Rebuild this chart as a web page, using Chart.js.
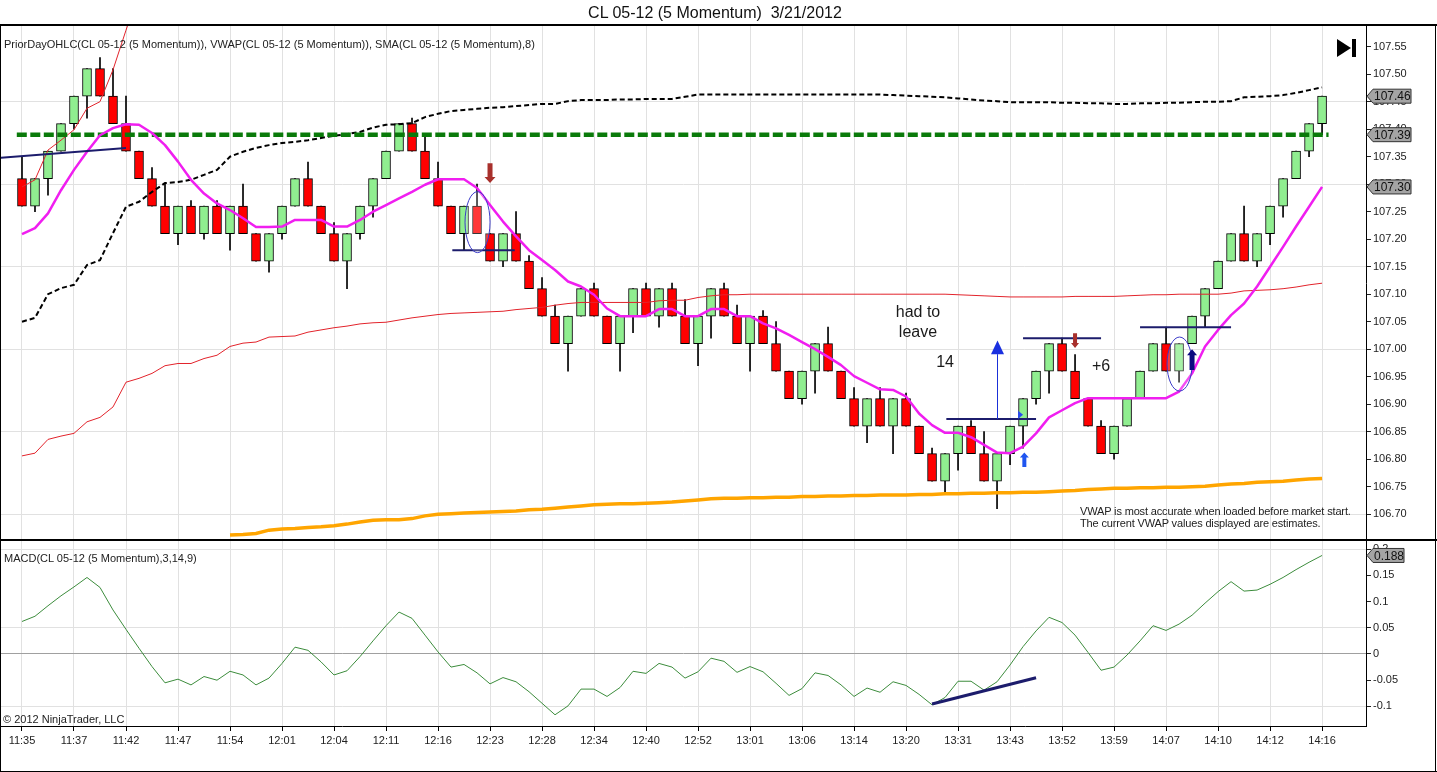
<!DOCTYPE html>
<html>
<head>
<meta charset="utf-8">
<title>CL 05-12 (5 Momentum) 3/21/2012</title>
<script src="https://cdn.jsdelivr.net/npm/chart.js@4.4.1/dist/chart.umd.min.js"></script>
<style>
  body { margin: 0; background: #fff; font-family: "Liberation Sans", Arial, sans-serif; }
  #wrap { position: relative; width: 1437px; height: 772px; overflow: hidden; background: #fff; }
  canvas { position: absolute; left: 0; }
  #priceCanvas { top: 0; }
  #macdCanvas { top: 540px; }
  .lbl { position: absolute; color: #222; white-space: nowrap; font-size: 11px; line-height: 13px; }
</style>
</head>
<body>
<div id="wrap">
  <canvas id="priceCanvas" width="1437" height="541"></canvas>
  <canvas id="macdCanvas" width="1437" height="232"></canvas>
  <div class="lbl" style="left:0;width:1430px;text-align:center;top:4px;font-size:16px;line-height:18px;color:#111;">CL 05-12 (5 Momentum)&nbsp; 3/21/2012</div>
  <div class="lbl" style="left:4px;top:38px;">PriorDayOHLC(CL 05-12 (5 Momentum)), VWAP(CL 05-12 (5 Momentum)), SMA(CL 05-12 (5 Momentum),8)</div>
  <div class="lbl" style="left:1080px;top:505px;font-size:11px;line-height:12px;letter-spacing:-0.15px;">VWAP is most accurate when loaded before market start.<br>The current VWAP values displayed are estimates.</div>
  <div class="lbl" style="left:4px;top:552px;">MACD(CL 05-12 (5 Momentum),3,14,9)</div>
  <div class="lbl" style="left:3px;top:713px;">&copy; 2012 NinjaTrader, LLC</div>
</div>

<script>
// 5 tick momentum bars, one entry per bar (101 bars)

const timeLabels = ['11:35', '11:37', '11:42', '11:47', '11:54', '12:01', '12:04', '12:11', '12:16',
  '12:23', '12:28', '12:34', '12:40', '12:52', '13:01', '13:06', '13:14', '13:20', '13:31',
  '13:43', '13:52', '13:59', '14:07', '14:10', '14:12', '14:16'];

const opens = [
  107.31, 107.26, 107.31, 107.36, 107.41, 107.46, 107.51, 107.46, 107.41, 107.36,
  107.31, 107.26, 107.21, 107.26, 107.21, 107.26, 107.21, 107.26, 107.21, 107.16,
  107.21, 107.26, 107.31, 107.26, 107.21, 107.16, 107.21, 107.26, 107.31, 107.36,
  107.41, 107.36, 107.31, 107.26, 107.21, 107.26, 107.21, 107.16, 107.21, 107.16,
  107.11, 107.06, 107.01, 107.06, 107.11, 107.06, 107.01, 107.06, 107.11, 107.06,
  107.11, 107.06, 107.01, 107.06, 107.11, 107.06, 107.01, 107.06, 107.01, 106.96,
  106.91, 106.96, 107.01, 106.96, 106.91, 106.86, 106.91, 106.86, 106.91, 106.86,
  106.81, 106.76, 106.81, 106.86, 106.81, 106.76, 106.81, 106.86, 106.91, 106.96,
  107.01, 106.96, 106.91, 106.86, 106.81, 106.86, 106.91, 106.96, 107.01, 106.96,
  107.01, 107.06, 107.11, 107.16, 107.21, 107.16, 107.21, 107.26, 107.31, 107.36,
  107.41];

const highs = [
  107.35, 107.31, 107.36, 107.41, 107.46, 107.51, 107.53, 107.51, 107.46, 107.36,
  107.33, 107.30, 107.26, 107.27, 107.26, 107.27, 107.26, 107.30, 107.21, 107.21,
  107.26, 107.31, 107.34, 107.26, 107.23, 107.21, 107.26, 107.31, 107.36, 107.41,
  107.42, 107.39, 107.34, 107.26, 107.26, 107.30, 107.21, 107.21, 107.25, 107.17,
  107.13, 107.08, 107.06, 107.11, 107.12, 107.06, 107.06, 107.11, 107.12, 107.11,
  107.12, 107.09, 107.06, 107.11, 107.12, 107.08, 107.06, 107.07, 107.05, 106.96,
  106.96, 107.01, 107.04, 106.96, 106.93, 106.91, 106.93, 106.91, 106.92, 106.86,
  106.82, 106.81, 106.86, 106.87, 106.85, 106.81, 106.86, 106.91, 106.96, 107.01,
  107.02, 106.99, 106.91, 106.87, 106.86, 106.91, 106.96, 107.01, 107.04, 107.01,
  107.06, 107.11, 107.16, 107.21, 107.26, 107.21, 107.26, 107.31, 107.36, 107.41,
  107.46];

const lows = [
  107.26, 107.25, 107.28, 107.36, 107.40, 107.42, 107.46, 107.41, 107.36, 107.31,
  107.26, 107.21, 107.19, 107.21, 107.20, 107.21, 107.18, 107.21, 107.16, 107.14,
  107.20, 107.26, 107.26, 107.21, 107.16, 107.11, 107.20, 107.24, 107.31, 107.36,
  107.36, 107.31, 107.26, 107.21, 107.18, 107.21, 107.16, 107.15, 107.16, 107.11,
  107.06, 107.01, 106.96, 107.06, 107.06, 107.01, 106.96, 107.03, 107.06, 107.04,
  107.06, 107.01, 106.97, 107.02, 107.06, 107.01, 106.96, 107.01, 106.96, 106.91,
  106.90, 106.92, 106.96, 106.91, 106.86, 106.83, 106.86, 106.81, 106.86, 106.81,
  106.76, 106.74, 106.78, 106.81, 106.76, 106.71, 106.79, 106.82, 106.90, 106.92,
  106.96, 106.91, 106.86, 106.81, 106.80, 106.86, 106.91, 106.96, 106.96, 106.94,
  107.01, 107.04, 107.11, 107.16, 107.16, 107.15, 107.19, 107.24, 107.31, 107.35,
  107.39];

const closes = [
  107.26, 107.31, 107.36, 107.41, 107.46, 107.51, 107.46, 107.41, 107.36, 107.31,
  107.26, 107.21, 107.26, 107.21, 107.26, 107.21, 107.26, 107.21, 107.16, 107.21,
  107.26, 107.31, 107.26, 107.21, 107.16, 107.21, 107.26, 107.31, 107.36, 107.41,
  107.36, 107.31, 107.26, 107.21, 107.26, 107.21, 107.16, 107.21, 107.16, 107.11,
  107.06, 107.01, 107.06, 107.11, 107.06, 107.01, 107.06, 107.11, 107.06, 107.11,
  107.06, 107.01, 107.06, 107.11, 107.06, 107.01, 107.06, 107.01, 106.96, 106.91,
  106.96, 107.01, 106.96, 106.91, 106.86, 106.91, 106.86, 106.91, 106.86, 106.81,
  106.76, 106.81, 106.86, 106.81, 106.76, 106.81, 106.86, 106.91, 106.96, 107.01,
  106.96, 106.91, 106.86, 106.81, 106.86, 106.91, 106.96, 107.01, 106.96, 107.01,
  107.06, 107.11, 107.16, 107.21, 107.16, 107.21, 107.26, 107.31, 107.36, 107.41,
  107.46];

// SMA(8), magenta
const smaValues = [
  107.209, 107.220, 107.247, 107.289, 107.326, 107.359, 107.389, 107.402, 107.409, 107.408,
  107.393, 107.371, 107.341, 107.308, 107.283, 107.265, 107.253, 107.238, 107.222, 107.222,
  107.223, 107.235, 107.235, 107.235, 107.223, 107.223, 107.235, 107.250, 107.262, 107.274,
  107.286, 107.299, 107.309, 107.309, 107.309, 107.293, 107.262, 107.232, 107.205, 107.180,
  107.162, 107.144, 107.123, 107.114, 107.099, 107.074, 107.060, 107.060, 107.060, 107.073,
  107.073, 107.060, 107.060, 107.073, 107.073, 107.060, 107.060, 107.047, 107.038, 107.026,
  107.013, 107.000, 106.986, 106.971, 106.951, 106.939, 106.927, 106.926, 106.914, 106.883,
  106.862, 106.848, 106.848, 106.840, 106.826, 106.812, 106.811, 106.823, 106.847, 106.876,
  106.889, 106.902, 106.911, 106.911, 106.911, 106.911, 106.911, 106.911, 106.911, 106.923,
  106.956, 107.005, 107.035, 107.062, 107.083, 107.114, 107.150, 107.186, 107.223, 107.259,
  107.295];

// VWAP, thin red
const vwapValues = [
  106.806, 106.811, 106.836, 106.842, 106.847, 106.868, 106.876, 106.895, 106.940, 106.947,
  106.956, 106.970, 106.974, 106.974, 106.983, 106.989, 107.005, 107.011, 107.013, 107.022,
  107.023, 107.024, 107.031, 107.035, 107.039, 107.042, 107.046, 107.048, 107.049, 107.053,
  107.057, 107.060, 107.063, 107.065, 107.066, 107.067, 107.068, 107.069, 107.072, 107.074,
  107.076, 107.080, 107.083, 107.085, 107.085, 107.085, 107.085, 107.085, 107.085, 107.088,
  107.089, 107.089, 107.094, 107.097, 107.099, 107.099, 107.100, 107.100, 107.100, 107.100,
  107.100, 107.100, 107.100, 107.100, 107.100, 107.100, 107.100, 107.100, 107.100, 107.100,
  107.100, 107.100, 107.099, 107.098, 107.097, 107.096, 107.095, 107.095, 107.095, 107.095,
  107.095, 107.096, 107.096, 107.096, 107.096, 107.097, 107.098, 107.099, 107.099, 107.100,
  107.100, 107.100, 107.100, 107.102, 107.106, 107.107, 107.108, 107.110, 107.113, 107.117,
  107.120];

// upper VWAP band, black dashed
const bandUpper1 = [
  107.050, 107.057, 107.100, 107.111, 107.117, 107.153, 107.162, 107.211, 107.259, 107.268,
  107.286, 107.302, 107.304, 107.308, 107.317, 107.326, 107.350, 107.359, 107.366, 107.371,
  107.375, 107.377, 107.380, 107.384, 107.388, 107.391, 107.395, 107.403, 107.408, 107.409,
  107.411, 107.422, 107.428, 107.433, 107.435, 107.437, 107.439, 107.440, 107.442, 107.444,
  107.446, 107.446, 107.451, 107.453, 107.453, 107.453, 107.454, 107.454, 107.455, 107.455,
  107.455, 107.459, 107.463, 107.463, 107.463, 107.463, 107.463, 107.463, 107.463, 107.463,
  107.463, 107.463, 107.463, 107.463, 107.463, 107.463, 107.463, 107.462, 107.461, 107.460,
  107.459, 107.458, 107.456, 107.454, 107.452, 107.451, 107.449, 107.449, 107.449, 107.449,
  107.448, 107.448, 107.447, 107.447, 107.446, 107.446, 107.447, 107.447, 107.448, 107.448,
  107.449, 107.450, 107.450, 107.451, 107.458, 107.459, 107.460, 107.462, 107.466, 107.471,
  107.476];

// outer upper band, leaves the top of the panel after a few bars
const bandUpper2 = [
  107.295, 107.308, 107.362, 107.380, 107.399, 107.438, 107.450, 107.508, 107.580, 107.650];

// lower VWAP band, orange (starts at bar 16)
const bandLower = [
  null, null, null, null, null, null, null, null, null, null,
  null, null, null, null, null, null, 106.662, 106.663, 106.665, 106.671,
  106.673, 106.674, 106.676, 106.677, 106.679, 106.682, 106.686, 106.689, 106.690, 106.690,
  106.692, 106.697, 106.700, 106.701, 106.702, 106.703, 106.704, 106.705, 106.706, 106.708,
  106.709, 106.711, 106.713, 106.715, 106.717, 106.718, 106.719, 106.719, 106.720, 106.721,
  106.722, 106.724, 106.726, 106.728, 106.729, 106.729, 106.730, 106.730, 106.731, 106.731,
  106.732, 106.732, 106.733, 106.733, 106.734, 106.734, 106.735, 106.735, 106.735, 106.736,
  106.736, 106.737, 106.737, 106.738, 106.738, 106.739, 106.739, 106.740, 106.740, 106.741,
  106.742, 106.743, 106.745, 106.746, 106.747, 106.747, 106.748, 106.748, 106.749, 106.749,
  106.750, 106.751, 106.753, 106.755, 106.756, 106.758, 106.759, 106.760, 106.762, 106.764,
  106.765];

const priorDayClose = 107.39;

// MACD(3,14,9) main line
const macdValues = [
  0.062, 0.072, 0.092, 0.111, 0.128, 0.146, 0.127, 0.084, 0.047, 0.011,
  -0.024, -0.055, -0.048, -0.059, -0.043, -0.050, -0.033, -0.040, -0.059, -0.046,
  -0.018, 0.013, 0.007, -0.015, -0.040, -0.032, -0.005, 0.025, 0.054, 0.080,
  0.068, 0.036, 0.004, -0.025, -0.020, -0.036, -0.057, -0.045, -0.053, -0.072,
  -0.094, -0.116, -0.099, -0.067, -0.067, -0.081, -0.064, -0.033, -0.037, -0.018,
  -0.025, -0.046, -0.034, -0.008, -0.014, -0.035, -0.024, -0.034, -0.056, -0.079,
  -0.066, -0.036, -0.041, -0.059, -0.081, -0.065, -0.073, -0.053, -0.060, -0.077,
  -0.097, -0.083, -0.052, -0.052, -0.069, -0.053, -0.021, 0.014, 0.044, 0.070,
  0.060, 0.036, 0.003, -0.031, -0.025, -0.002, 0.025, 0.054, 0.045, 0.057,
  0.074, 0.097, 0.119, 0.138, 0.120, 0.122, 0.133, 0.146, 0.161, 0.175,
  0.188];

const priceTicks = [106.70, 106.75, 106.80, 106.85, 106.90, 106.95, 107.00, 107.05, 107.10,
  107.15, 107.20, 107.25, 107.30, 107.35, 107.40, 107.45, 107.50, 107.55];
const macdTicks = [-0.1, -0.05, 0, 0.05, 0.1, 0.15, 0.2];

// hand drawn trend lines: [bar, price] pairs
const drawnLines = [
  [[-1.7, 107.348], [8, 107.366]],
  [[33.1, 107.18], [37.9, 107.18]],
  [[71.1, 106.873], [78, 106.873]],
  [[77, 107.02], [83, 107.02]],
  [[86, 107.04], [93, 107.04]]
];
const macdDrawnLine = [[70, -0.0955], [78, -0.0452]];

// ---- layout of the panels ----
const FONT = '"Liberation Sans", Arial, sans-serif';
const X_MIN = -1.615, X_MAX = 103.38;
const AXIS_W = 71;
const GRID = '#e1e1e1';

Chart.defaults.font.family = FONT;

function series(values) {
  return values.map((v, i) => ({ x: i, y: v }));
}

function segments(lines) {
  const pts = [];
  lines.forEach(seg => {
    seg.forEach(p => pts.push({ x: p[0], y: p[1] }));
    pts.push({ x: seg[1][0], y: null });
  });
  return pts;
}

const labelBars = timeLabels.map((_, k) => k * 4);

// annotation drawings on the price panel (anchored on bar index / price)
const ellipses = [
  { bar: 35.04, price: 107.231, rx: 12.5, ry: 30.5 },
  { bar: 89.04, price: 106.973, rx: 12.5, ry: 27 }
];
const arrows = [
  { bar: 36, top: 107.338, bottom: 107.302, dir: 'down', color: '#a8302c', shaft: 5, head: 11, headH: 6 },
  { bar: 81, top: 107.029, bottom: 107.002, dir: 'down', color: '#a8302c', shaft: 4, head: 8, headH: 5 },
  { bar: 90, top: 107.000, bottom: 106.962, dir: 'up', color: '#0b0b80', shaft: 5, head: 10, headH: 6 },
  { bar: 77.1, top: 106.812, bottom: 106.786, dir: 'up', color: '#1f55f0', shaft: 4, head: 9, headH: 5 }
];
const notes = [
  { bar: 68.92, price: 107.066, text: 'had to' },
  { bar: 68.92, price: 107.031, text: 'leave' },
  { bar: 71, price: 106.976, text: '14' },
  { bar: 83, price: 106.969, text: '+6' }
];

function drawArrow(ctx, x, yTop, yBot, a) {
  const sw = a.shaft / 2, hw = a.head / 2;
  ctx.beginPath();
  if (a.dir === 'down') {
    ctx.moveTo(x - sw, yTop);
    ctx.lineTo(x + sw, yTop);
    ctx.lineTo(x + sw, yBot - a.headH);
    ctx.lineTo(x + hw, yBot - a.headH);
    ctx.lineTo(x, yBot);
    ctx.lineTo(x - hw, yBot - a.headH);
    ctx.lineTo(x - sw, yBot - a.headH);
  } else {
    ctx.moveTo(x - sw, yBot);
    ctx.lineTo(x + sw, yBot);
    ctx.lineTo(x + sw, yTop + a.headH);
    ctx.lineTo(x + hw, yTop + a.headH);
    ctx.lineTo(x, yTop);
    ctx.lineTo(x - hw, yTop + a.headH);
    ctx.lineTo(x - sw, yTop + a.headH);
  }
  ctx.closePath();
  ctx.fillStyle = a.color;
  ctx.fill();
}

function drawTag(ctx, x, y, text, w) {
  ctx.save();
  ctx.beginPath();
  ctx.moveTo(x, y);
  ctx.lineTo(x + 6, y - 7);
  ctx.lineTo(x + w, y - 7);
  ctx.lineTo(x + w, y + 7);
  ctx.lineTo(x + 6, y + 7);
  ctx.closePath();
  ctx.fillStyle = '#a4a4a4';
  ctx.fill();
  ctx.strokeStyle = '#333';
  ctx.lineWidth = 1;
  ctx.stroke();
  ctx.fillStyle = '#111';
  ctx.font = '12px ' + FONT;
  ctx.textBaseline = 'middle';
  ctx.textAlign = 'left';
  ctx.fillText(text, x + 7, y + 1);
  ctx.restore();
}

const priceDrawings = {
  id: 'priceDrawings',
  afterDatasetsDraw(chart) {
    const ctx = chart.ctx;
    const xs = chart.scales.x, ys = chart.scales.y;
    const area = chart.chartArea;
    ctx.save();
    ctx.beginPath();
    ctx.rect(area.left, area.top, area.right - area.left, area.bottom - area.top);
    ctx.clip();

    ellipses.forEach(e => {
      ctx.beginPath();
      ctx.ellipse(xs.getPixelForValue(e.bar), ys.getPixelForValue(e.price), e.rx, e.ry, 0, 0, Math.PI * 2);
      ctx.fillStyle = 'rgba(255,255,255,0.22)';
      ctx.fill();
      ctx.strokeStyle = '#3a3ac8';
      ctx.lineWidth = 1;
      ctx.stroke();
    });

    arrows.forEach(a => {
      drawArrow(ctx, xs.getPixelForValue(a.bar), ys.getPixelForValue(a.top), ys.getPixelForValue(a.bottom), a);
    });

    // long blue arrow from the entry line
    const bx = Math.round(xs.getPixelForValue(75)) + 0.5;
    const headTop = ys.getPixelForValue(107.016);
    const headBase = ys.getPixelForValue(106.991);
    ctx.strokeStyle = '#1a30d8';
    ctx.lineWidth = 1;
    ctx.beginPath();
    ctx.moveTo(bx, headBase);
    ctx.lineTo(bx, ys.getPixelForValue(106.873));
    ctx.stroke();
    ctx.beginPath();
    ctx.moveTo(bx, headTop);
    ctx.lineTo(bx + 6.5, headBase);
    ctx.lineTo(bx - 6.5, headBase);
    ctx.closePath();
    ctx.fillStyle = '#1a30e0';
    ctx.fill();

    // small right-pointing marker on the entry line
    const tx = xs.getPixelForValue(77.0), ty = ys.getPixelForValue(106.881);
    ctx.beginPath();
    ctx.moveTo(tx, ty);
    ctx.lineTo(tx - 5, ty - 4);
    ctx.lineTo(tx - 5, ty + 4);
    ctx.closePath();
    ctx.fillStyle = '#2a4cf0';
    ctx.fill();

    ctx.fillStyle = '#1a1a1a';
    ctx.font = '16px ' + FONT;
    ctx.textAlign = 'center';
    ctx.textBaseline = 'middle';
    notes.forEach(n => {
      ctx.fillText(n.text, xs.getPixelForValue(n.bar), ys.getPixelForValue(n.price));
    });
    ctx.restore();
  },
  afterDraw(chart) {
    const ctx = chart.ctx;
    const ys = chart.scales.y;
    const right = chart.chartArea.right;
    ctx.save();
    // frame
    ctx.fillStyle = '#000';
    ctx.fillRect(0, 24, 1437, 2);
    ctx.fillRect(0, 24, 1, 517);
    ctx.fillRect(1435, 24, 1, 517);
    ctx.fillRect(0, 539, 1437, 2);

    // go-to-last-bar button
    ctx.beginPath();
    ctx.moveTo(1337, 39);
    ctx.lineTo(1351, 48);
    ctx.lineTo(1337, 57);
    ctx.closePath();
    ctx.fill();
    ctx.fillRect(1352, 39, 4, 18);
    ctx.restore();

    drawTag(ctx, right + 1, ys.getPixelForValue(closes[closes.length - 1]), closes[closes.length - 1].toFixed(2), 44);
    drawTag(ctx, right + 1, ys.getPixelForValue(priorDayClose), priorDayClose.toFixed(2), 44);
    drawTag(ctx, right + 1, ys.getPixelForValue(smaValues[smaValues.length - 1]), smaValues[smaValues.length - 1].toFixed(2), 44);
  }
};

const macdDrawings = {
  id: 'macdDrawings',
  afterDraw(chart) {
    const ctx = chart.ctx;
    const ys = chart.scales.y;
    ctx.save();
    ctx.fillStyle = '#000';
    ctx.fillRect(0, 0, 1437, 1);
    ctx.fillRect(0, 0, 1, 232);
    ctx.fillRect(1435, 0, 1, 232);
    ctx.fillRect(0, 231, 1437, 1);
    ctx.restore();
    const last = macdValues[macdValues.length - 1];
    drawTag(ctx, chart.chartArea.right + 1, ys.getPixelForValue(last), last.toFixed(3), 37);
  }
};

function xScale(showLabels) {
  return {
    type: 'linear',
    min: X_MIN,
    max: X_MAX,
    offset: false,
    afterBuildTicks: s => { s.ticks = labelBars.map(v => ({ value: v })); },
    afterFit: s => {
      s.height = showLabels ? 45 : 0;
      s.paddingLeft = 0;
      s.paddingRight = 0;
    },
    grid: { color: GRID, offset: false, drawTicks: showLabels, tickLength: 5, tickColor: '#000' },
    border: { display: showLabels, color: '#000', width: 1 },
    ticks: {
      display: showLabels,
      autoSkip: false,
      maxRotation: 0,
      padding: 3,
      color: '#222',
      font: { size: 11 },
      callback: v => timeLabels[Math.round(v / 4)]
    }
  };
}

function yScale(min, max, tickValues, gridFor, fmt) {
  return {
    position: 'right',
    min: min,
    max: max,
    afterBuildTicks: s => { s.ticks = tickValues.map(v => ({ value: v })); },
    afterFit: s => {
      s.width = AXIS_W;
      s.paddingTop = 0;
      s.paddingBottom = 0;
    },
    grid: {
      color: c => gridFor(c.tick ? c.tick.value : null),
      tickLength: 5,
      tickColor: '#222'
    },
    border: { color: '#000', width: 1 },
    ticks: { color: '#222', font: { size: 11 }, padding: 2, callback: fmt }
  };
}

// ---- price panel ----
const bodyColors = opens.map((o, i) => closes[i] >= o ? '#90ee90' : '#ff0000');

new Chart(document.getElementById('priceCanvas'), {
  type: 'line',
  data: {
    datasets: [
      { label: 'Drawn lines', data: segments(drawnLines), borderColor: '#1c1c6c', borderWidth: 2,
        pointRadius: 0, spanGaps: false },
      { label: 'SMA(8)', data: series(smaValues), borderColor: '#f01ef0', borderWidth: 2.5,
        pointRadius: 0, borderJoinStyle: 'round' },
      { label: 'Prior day close', data: [{ x: -0.4, y: priorDayClose }, { x: 100.5, y: priorDayClose }],
        borderColor: '#0a7a0a', borderWidth: 4.5, borderDash: [10, 3.5], pointRadius: 0 },
      { label: 'VWAP upper', data: series(bandUpper1), borderColor: '#000', borderWidth: 2,
        borderDash: [5, 3], pointRadius: 0 },
      { label: 'VWAP', data: series(vwapValues), borderColor: '#e2232b', borderWidth: 1, pointRadius: 0 },
      { label: 'VWAP upper 2', data: series(bandUpper2), borderColor: '#e2232b', borderWidth: 1, pointRadius: 0 },
      { label: 'VWAP lower', data: series(bandLower), borderColor: '#ffa500', borderWidth: 3.5,
        pointRadius: 0, spanGaps: false },
      { type: 'bar', label: 'Body', data: opens.map((o, i) => ({ x: i, y: [o, closes[i]] })),
        backgroundColor: bodyColors, borderColor: '#000', borderWidth: 1, borderSkipped: false,
        barThickness: 9, grouped: false },
      { type: 'bar', label: 'Wick', data: lows.map((l, i) => ({ x: i, y: [l, highs[i]] })),
        backgroundColor: '#000', borderWidth: 0, barThickness: 1, grouped: false }
    ]
  },
  options: {
    responsive: false,
    animation: false,
    layout: { padding: { top: 26, left: 1, right: 0, bottom: 1 } },
    plugins: { legend: { display: false }, tooltip: { enabled: false } },
    scales: {
      x: xScale(false),
      y: yScale(106.6531, 107.5876, priceTicks,
        v => (v !== null && Math.round((v - 106.70) / 0.05) % 3 === 0) ? GRID : 'rgba(0,0,0,0)',
        v => v.toFixed(2))
    }
  },
  plugins: [priceDrawings]
});

// ---- MACD panel ----
new Chart(document.getElementById('macdCanvas'), {
  type: 'line',
  data: {
    datasets: [
      { label: 'Trend', data: macdDrawnLine.map(p => ({ x: p[0], y: p[1] })), borderColor: '#1c1c6c',
        borderWidth: 3, pointRadius: 0 },
      { label: 'MACD', data: series(macdValues), borderColor: '#3c8c3c', borderWidth: 1, pointRadius: 0 }
    ]
  },
  options: {
    responsive: false,
    animation: false,
    layout: { padding: { top: 1, left: 1, right: 0, bottom: 1 } },
    plugins: { legend: { display: false }, tooltip: { enabled: false } },
    scales: {
      x: xScale(true),
      y: yScale(-0.1374, 0.2156, macdTicks,
        v => v === 0 ? '#a0a0a0' : ([-0.1, 0.05, 0.2].includes(v) ? GRID : 'rgba(0,0,0,0)'),
        v => String(parseFloat(v.toFixed(2))))
    }
  },
  plugins: [macdDrawings]
});
</script>
</body>
</html>
